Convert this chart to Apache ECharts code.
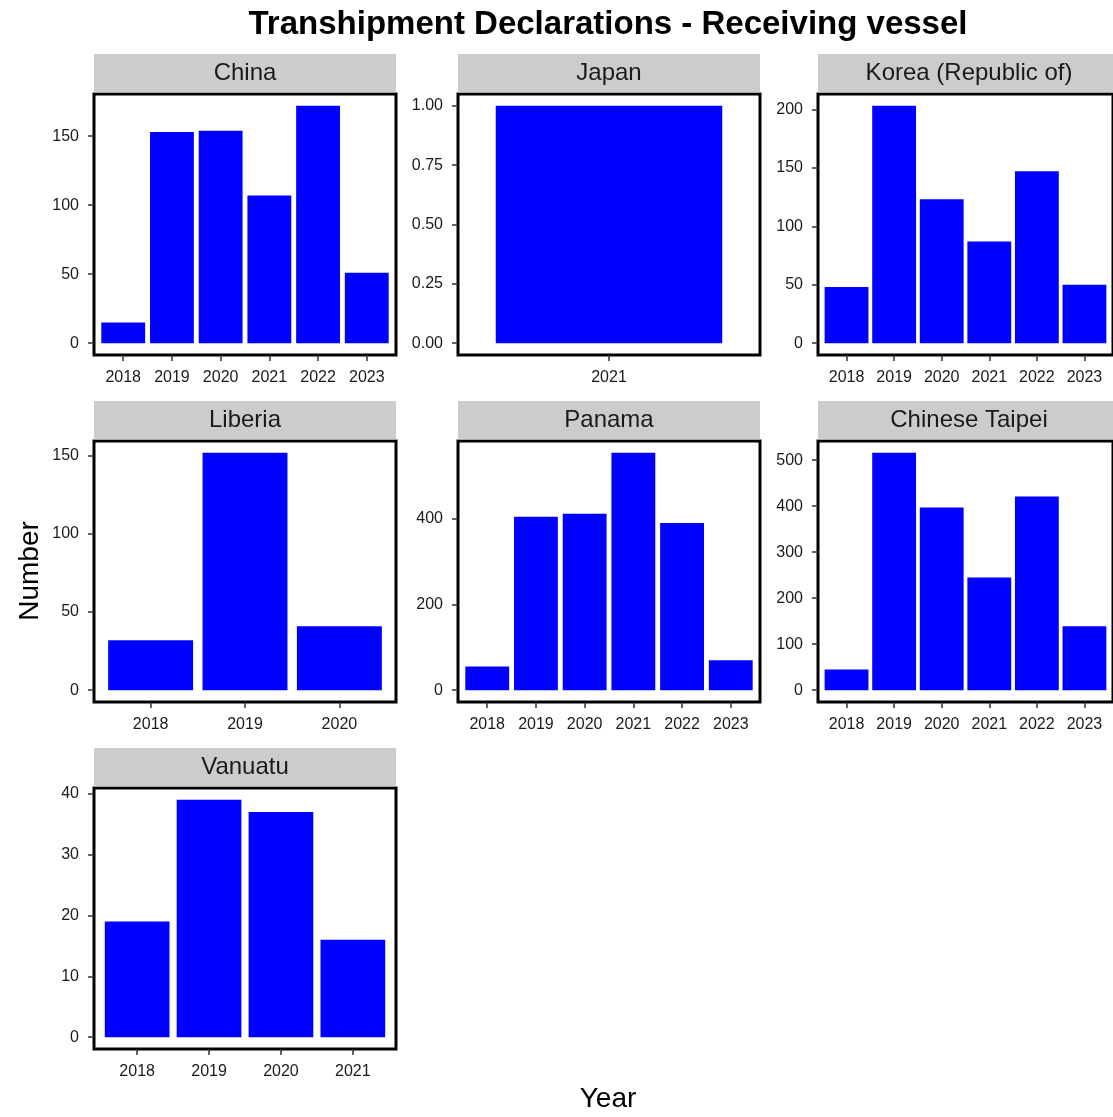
<!DOCTYPE html>
<html lang="en">
<head>
<meta charset="utf-8">
<title>Transhipment Declarations - Receiving vessel</title>
<script src="https://cdn.jsdelivr.net/npm/echarts@6.0.0/dist/echarts.min.js"></script>
<style>
  html, body { margin: 0; padding: 0; background: #fff; }
  #main { width: 1113px; height: 1117px; }
</style>
</head>
<body>
<div id="main"></div>
<script>
// values, one small set per flag
var chinaYears = ['2018', '2019', '2020', '2021', '2022', '2023'];
var chinaValues = [15, 153, 154, 107, 172, 51];
var chinaTicks = [0, 50, 100, 150];

var japanYears = ['2021'];
var japanValues = [1];
var japanTicks = [0, 0.25, 0.5, 0.75, 1];

var koreaYears = ['2018', '2019', '2020', '2021', '2022', '2023'];
var koreaValues = [48, 203, 123, 87, 147, 50];
var koreaTicks = [0, 50, 100, 150, 200];

var liberiaYears = ['2018', '2019', '2020'];
var liberiaValues = [32, 152, 41];
var liberiaTicks = [0, 50, 100, 150];

var panamaYears = ['2018', '2019', '2020', '2021', '2022', '2023'];
var panamaValues = [55, 405, 412, 554, 390, 70];
var panamaTicks = [0, 200, 400];

var taipeiYears = ['2018', '2019', '2020', '2021', '2022', '2023'];
var taipeiValues = [45, 516, 397, 245, 421, 139];
var taipeiTicks = [0, 100, 200, 300, 400, 500];

var vanuatuYears = ['2018', '2019', '2020', '2021'];
var vanuatuValues = [19, 39, 37, 16];
var vanuatuTicks = [0, 10, 20, 30, 40];

var panels = [
    { title: 'China', years: chinaYears, values: chinaValues, ticks: chinaTicks, col: 0, row: 0 },
    { title: 'Japan', years: japanYears, values: japanValues, ticks: japanTicks, col: 1, row: 0, digits: 2 },
    { title: 'Korea (Republic of)', years: koreaYears, values: koreaValues, ticks: koreaTicks, col: 2, row: 0 },
    { title: 'Liberia', years: liberiaYears, values: liberiaValues, ticks: liberiaTicks, col: 0, row: 1 },
    { title: 'Panama', years: panamaYears, values: panamaValues, ticks: panamaTicks, col: 1, row: 1 },
    { title: 'Chinese Taipei', years: taipeiYears, values: taipeiValues, ticks: taipeiTicks, col: 2, row: 1 },
    { title: 'Vanuatu', years: vanuatuYears, values: vanuatuValues, ticks: vanuatuTicks, col: 0, row: 2 }
];

// layout of the facet grid (pixels)
var FONT = '"Liberation Sans", Arial, sans-serif';
var colLeft = [94, 458, 818];
var rowTop = [94, 441, 788];
var panelW = 302, panelH = 261, stripH = 40;

var grids = [], xAxes = [], yAxes = [], series = [], graphics = [];

panels.forEach(function (p, i) {
    var left = colLeft[p.col], top = rowTop[p.row];
    var n = p.years.length;
    var yMax = Math.max.apply(null, p.values);
    var pos = p.years.map(function (y, k) { return k + 1; });

    grids.push({
        left: left, top: top, width: panelW, height: panelH,
        show: true, backgroundColor: '#fff', borderColor: '#000', borderWidth: 3
    });

    // discrete axis like ggplot: 0.6 units of padding each side
    xAxes.push({
        type: 'value', gridIndex: i, min: 0.4, max: n + 0.6,
        splitLine: { show: false },
        axisLine: { show: false, onZero: false },
        axisTick: { customValues: pos, length: 6, lineStyle: { color: '#333', width: 1.5 } },
        axisLabel: {
            customValues: pos, margin: 15, color: '#1a1a1a', fontSize: 16, fontFamily: FONT,
            formatter: function (v) { return p.years[Math.round(v) - 1]; }
        }
    });

    // 5% expansion below and above, like ggplot
    yAxes.push({
        type: 'value', gridIndex: i, min: -0.05 * yMax, max: 1.05 * yMax,
        splitLine: { show: false },
        axisLine: { show: false, onZero: false },
        axisTick: { customValues: p.ticks, length: 6, lineStyle: { color: '#333', width: 1.5 } },
        axisLabel: {
            customValues: p.ticks, margin: 15, color: '#1a1a1a', fontSize: 16, fontFamily: FONT,
            formatter: function (v) { return v.toFixed(p.digits || 0); }
        }
    });

    series.push({
        type: 'bar', xAxisIndex: i, yAxisIndex: i,
        data: p.values.map(function (v, k) { return [k + 1, v]; }),
        barWidth: 0.9 * panelW / (n + 0.2),
        itemStyle: { color: '#0000ff' },
        silent: true
    });

    // facet strip, sitting just above the panel border
    graphics.push({
        type: 'rect', z: 10,
        shape: { x: left, y: top - stripH, width: panelW, height: stripH - 1.5 },
        style: { fill: '#cccccc' }
    });
    graphics.push({
        type: 'text', z: 11,
        x: left + panelW / 2, y: top - stripH / 2 - 1,
        style: {
            text: p.title, align: 'center', verticalAlign: 'middle',
            fontSize: 24, fontFamily: FONT, fill: '#1a1a1a'
        }
    });
});

graphics.push({
    type: 'text', z: 11, x: 608, y: 25,
    style: {
        text: 'Transhipment Declarations - Receiving vessel', align: 'center', verticalAlign: 'middle',
        fontSize: 33, fontWeight: 'bold', fontFamily: FONT, fill: '#000'
    }
});
graphics.push({
    type: 'text', z: 11, x: 608, y: 1099,
    style: {
        text: 'Year', align: 'center', verticalAlign: 'middle',
        fontSize: 28, fontFamily: FONT, fill: '#000'
    }
});
graphics.push({
    type: 'text', z: 11, x: 30, y: 571, rotation: Math.PI / 2,
    style: {
        text: 'Number', align: 'center', verticalAlign: 'middle',
        fontSize: 28, fontFamily: FONT, fill: '#000'
    }
});

var myChart = echarts.init(document.getElementById('main'));
myChart.setOption({
    animation: false,
    backgroundColor: '#fff',
    grid: grids,
    xAxis: xAxes,
    yAxis: yAxes,
    series: series,
    graphic: graphics
});
</script>
</body>
</html>
